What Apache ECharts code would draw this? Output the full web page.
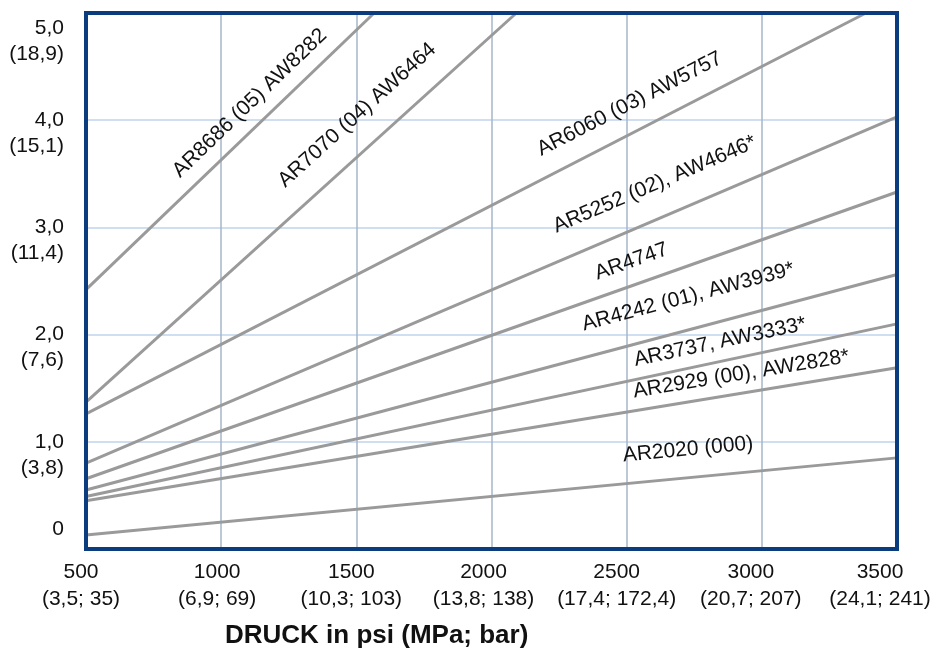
<!DOCTYPE html>
<html>
<head>
<meta charset="utf-8">
<title>Durchfluss / Druck</title>
<script src="https://cdn.jsdelivr.net/npm/echarts@6/dist/echarts.min.js"></script>
<style>
  html, body { margin: 0; padding: 0; background: #fff; }
  #chart { width: 933px; height: 648px; }
</style>
</head>
<body>
<div id="chart"></div>
<script>
// Kennlinien (Druck psi -> Wert)
const seriesNames = ['AR8686 (05) AW8282', 'AR7070 (04) AW6464', 'AR6060 (03) AW5757',
  'AR5252 (02), AW4646*', 'AR4747', 'AR4242 (01), AW3939*', 'AR3737, AW3333*',
  'AR2929 (00), AW2828*', 'AR2020 (000)'];
const startPsi = [500, 500, 500, 500, 500, 500, 500, 500, 500];
const startFlow = [2.42, 1.37, 1.26, 0.80, 0.655, 0.55, 0.49, 0.45, 0.13];
const endPsi = [1566, 2092, 3385, 3500, 3500, 3500, 3500, 3500, 3500];
const endFlow = [5.0, 5.0, 5.0, 4.03, 3.33, 2.56, 2.10, 1.69, 0.85];

// Achsenbeschriftung
const xTicks = [500, 1000, 1500, 2000, 2500, 3000, 3500];
const xSub = ['(3,5; 35)', '(6,9; 69)', '(10,3; 103)', '(13,8; 138)', '(17,4; 172,4)', '(20,7; 207)', '(24,1; 241)'];
const yTicks = [0, 1, 2, 3, 4, 5];
const yMain = ['0', '1,0', '2,0', '3,0', '4,0', '5,0'];
const ySub = ['', '(3,8)', '(7,6)', '(11,4)', '(15,1)', '(18,9)'];
const xTitle = 'DRUCK in psi (MPa; bar)';

// Lage der Beschriftung an den Linien (Position auf der Linie in psi, Abstand in px)
const labelPsi = [1160, 1580, 2557, 2652, 2546, 2758, 2860, 2935, 2737];
const labelGap = [21, 31, 27, 33, 23, 32, 19, 19, 28];
const xShift = [5, 4, 5, 8, 10, 11, 17];   // Labels leicht nach links

const FONT = '"Liberation Sans", Arial, Helvetica, sans-serif';

// rich styles x-Achse
const xRich = {};
xTicks.forEach((t, i) => {
  xRich['a' + i] = { fontSize: 21, lineHeight: 27, color: '#111', fontFamily: FONT, padding: [0, xShift[i] * 2, 0, 0] };
  xRich['b' + i] = { fontSize: 21, lineHeight: 27, color: '#111', fontFamily: FONT, padding: [0, xShift[i] * 2, 0, 0] };
});

const yStyle = { fontSize: 21, lineHeight: 26, color: '#111', fontFamily: FONT, align: 'right' };

const series = seriesNames.map((name, i) => ({
  name: name,
  type: 'line',
  symbol: 'none',
  silent: true,
  lineStyle: { color: '#9a9a9a', width: 3 },
  data: [[startPsi[i], startFlow[i]], [endPsi[i], endFlow[i]]]
}));

const option = {
  animation: false,
  grid: {
    left: 86, right: 36, top: 13, bottom: 99,
    containLabel: false,
    outerBoundsMode: 'none',
    show: true,
    z: 10,
    backgroundColor: 'transparent',
    borderColor: '#0b3d7e',
    borderWidth: 4
  },
  title: {
    text: xTitle,
    left: 225,
    top: 623,
    padding: 0,
    textStyle: { fontSize: 26, fontWeight: 'bold', color: '#111', fontFamily: FONT }
  },
  xAxis: {
    type: 'value',
    min: 500, max: 3500, interval: 500,
    axisLine: { show: false },
    axisTick: { show: false },
    splitLine: { show: true, showMinLine: false, showMaxLine: false, lineStyle: { color: '#a6b4ca', width: 1.5 } },
    axisLabel: {
      margin: 10,
      rich: xRich,
      formatter: function (v) {
        const i = xTicks.indexOf(v);
        if (i < 0) return '';
        return '{a' + i + '|' + v + '}\n{b' + i + '|' + xSub[i] + '}';
      }
    }
  },
  yAxis: {
    type: 'value',
    min: 0, max: 5, interval: 1,
    axisLine: { show: false },
    axisTick: { show: false },
    splitLine: { show: true, showMinLine: false, showMaxLine: false, lineStyle: { color: '#bfd3ec', width: 1.5 } },
    axisLabel: {
      margin: 22,
      rich: {
        main: yStyle,
        sub: yStyle,
        g: Object.assign({}, yStyle, { lineHeight: 26 }),
        gTop: Object.assign({}, yStyle, { lineHeight: 57 }),
        gZero: Object.assign({}, yStyle, { lineHeight: 40 })
      },
      // leere Zeile oben/unten damit die erste Zeile auf der Linie sitzt
      formatter: function (v) {
        const i = yTicks.indexOf(v);
        if (i < 0) return '';
        if (v === 0) return '{main|' + yMain[i] + '}\n{gZero| }';
        if (v === 5) return '{gTop| }\n{main|' + yMain[i] + '}\n{sub|' + ySub[i] + '}';
        return '{g| }\n{main|' + yMain[i] + '}\n{sub|' + ySub[i] + '}';
      }
    }
  },
  series: series
};

const chart = echarts.init(document.getElementById('chart'));
chart.setOption(option);

// Beschriftung schräg entlang der Linien
function placeLabels() {
  const texts = seriesNames.map((name, i) => {
    const p0 = chart.convertToPixel({ gridIndex: 0 }, [startPsi[i], startFlow[i]]);
    const p1 = chart.convertToPixel({ gridIndex: 0 }, [endPsi[i], endFlow[i]]);
    const t = (labelPsi[i] - startPsi[i]) / (endPsi[i] - startPsi[i]);
    const fx = p0[0] + t * (p1[0] - p0[0]);
    const fy = p0[1] + t * (p1[1] - p0[1]);
    const ang = Math.atan2(p0[1] - p1[1], p1[0] - p0[0]);
    return {
      type: 'text',
      x: fx - Math.sin(ang) * labelGap[i],
      y: fy - Math.cos(ang) * labelGap[i],
      rotation: ang,
      z: 20,
      silent: true,
      style: {
        text: name,
        font: '21px ' + FONT,
        fill: '#111',
        align: 'center',
        verticalAlign: 'middle',
        textAlign: 'center',
        textVerticalAlign: 'middle'
      }
    };
  });
  chart.setOption({ graphic: texts });
}
placeLabels();
</script>
</body>
</html>
